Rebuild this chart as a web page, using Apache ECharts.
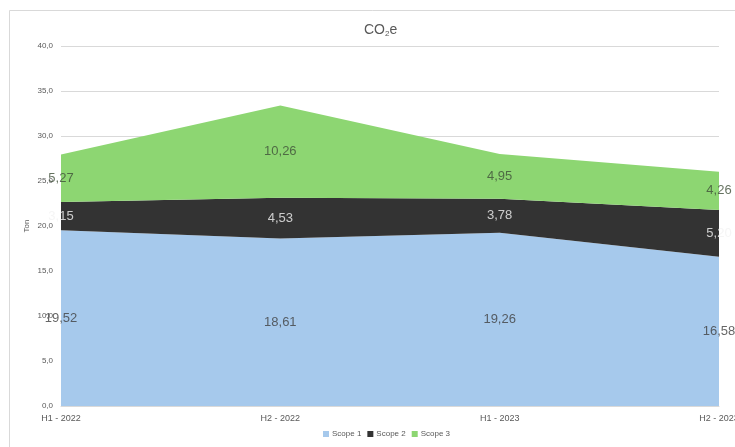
<!DOCTYPE html>
<html>
<head>
<meta charset="utf-8">
<script src="https://cdn.jsdelivr.net/npm/echarts@6/dist/echarts.min.js"></script>
<style>
html,body{margin:0;padding:0;background:#fff;overflow:hidden;width:100%;height:100%;}
#chart{width:100%;height:100%;}
</style>
</head>
<body>
<div id="chart"></div>
<script>
var categories = ["H1 - 2022", "H2 - 2022", "H1 - 2023", "H2 - 2023"];
var scope1 = [19.52, 18.61, 19.26, 16.58];
var scope2 = [3.15, 4.53, 3.78, 5.20];
var scope3 = [5.27, 10.26, 4.95, 4.26];
var seriesNames = ["Scope 1", "Scope 2", "Scope 3"];
var colors = ["#A6C9EC", "#333333", "#8DD672"];
var labelColors = ["#404040", "#F2F2F2", "#3F4F38"];
var yTicks = [0, 5, 10, 15, 20, 25, 30, 35, 40];

function fmt(v, d) { return v.toFixed(d).replace('.', ','); }

var layers = [scope1, scope2, scope3];
var font = "'Liberation Sans', Arial, sans-serif";

var series = [];
layers.forEach(function (arr, k) {
  series.push({
    name: seriesNames[k],
    type: 'line',
    stack: 'total',
    data: arr,
    showSymbol: false,
    symbol: 'none',
    lineStyle: { width: 0 },
    areaStyle: { color: colors[k], opacity: 1 },
    itemStyle: { color: colors[k] },
    emphasis: { disabled: true },
    z: 2
  });
});
// centered value labels for each band
layers.forEach(function (arr, k) {
  var pts = arr.map(function (v, i) {
    var base = 0;
    for (var j = 0; j < k; j++) base += layers[j][i];
    return { value: [i, base + v / 2, v] };
  });
  series.push({
    type: 'scatter',
    data: pts,
    symbolSize: 0,
    clip: false,
    silent: true,
    z: 5,
    label: {
      show: true,
      position: 'inside',
      color: labelColors[k],
      fontSize: 13,
      fontFamily: font,
      formatter: function (p) { return fmt(p.value[2], 2); }
    },
    tooltip: { show: false }
  });
});

var chart = echarts.init(document.getElementById('chart'), null, { renderer: 'canvas' });
chart.setOption({
  animation: false,
  backgroundColor: '#fff',
  graphic: [{
    type: 'rect',
    shape: { x: 9.5, y: 10.5, width: 740, height: 450 },
    style: { fill: 'none', stroke: '#D9D9D9', lineWidth: 1 },
    z: -1,
    silent: true
  }],
  title: {
    text: '{a|CO}{b|2}{a|e}',
    left: 359,
    top: 17,
    textStyle: {
      fontWeight: 'normal',
      rich: {
        a: { fontSize: 14, color: '#595959', fontFamily: font, fontWeight: 'normal' },
        b: { fontSize: 8, color: '#595959', fontFamily: font, fontWeight: 'normal', verticalAlign: 'bottom', padding: [8, 0, 0, 0] }
      }
    }
  },
  legend: {
    data: seriesNames,
    bottom: 4,
    left: 318,
    itemWidth: 6,
    itemHeight: 6,
    itemGap: 6,
    icon: 'rect',
    textStyle: { fontSize: 8, color: '#595959', fontFamily: font, padding: [0, 0, 0, -2] }
  },
  grid: { left: 61, right: 16, top: 46, bottom: 41, containLabel: false, outerBoundsMode: 'none' },
  xAxis: {
    type: 'category',
    data: categories,
    boundaryGap: false,
    axisLine: { show: true, lineStyle: { color: '#D9D9D9' } },
    axisTick: { show: false },
    axisLabel: { fontSize: 9, color: '#595959', fontFamily: font, margin: 8 }
  },
  yAxis: {
    type: 'value',
    min: yTicks[0],
    max: yTicks[yTicks.length - 1],
    interval: 5,
    name: 'Ton',
    nameLocation: 'middle',
    nameRotate: 90,
    nameGap: 30,
    nameMoveOverlap: false,
    nameTextStyle: { fontSize: 8, color: '#595959', fontFamily: font },
    axisLine: { show: false },
    axisTick: { show: false },
    splitLine: { lineStyle: { color: '#D9D9D9', width: 1 } },
    axisLabel: { fontSize: 8, color: '#595959', fontFamily: font, margin: 8, formatter: function (v) { return fmt(v, 1); } }
  },
  series: series
});
</script>
</body>
</html>
